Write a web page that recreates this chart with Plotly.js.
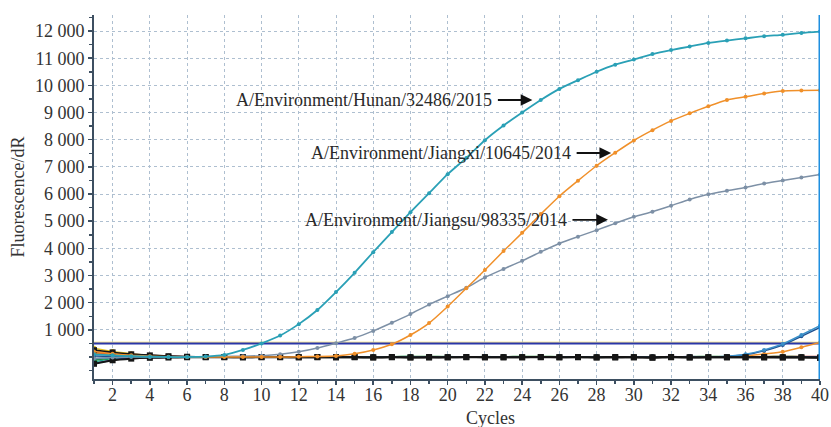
<!DOCTYPE html>
<html>
<head>
<meta charset="utf-8">
<script src="https://cdn.plot.ly/plotly-3.0.1.min.js"></script>
<style>html,body{margin:0;padding:0;background:#fff;}#chart{width:831px;height:427px;}</style>
</head>
<body>
<div id="chart"></div>
<script>
// ---- data ----
const cycles = [1,2,3,4,5,6,7,8,9,10,11,12,13,14,15,16,17,18,19,20,21,22,23,24,25,26,27,28,29,30,31,32,33,34,35,36,37,38,39,40];

const hunan = [100,60,30,10,0,0,15,75,260,500,790,1210,1730,2390,3100,3860,4600,5330,6030,6730,7330,7980,8520,9000,9460,9870,10190,10500,10760,10950,11150,11300,11430,11560,11650,11730,11810,11860,11930,11980];
const jiangxi = [200,120,60,30,10,0,0,0,0,0,0,10,20,40,120,260,470,810,1250,1860,2530,3200,3900,4570,5260,5920,6490,7040,7520,7970,8350,8690,8970,9230,9460,9580,9700,9790,9810,9820];
const jiangsu = [-50,-20,0,0,0,0,10,20,30,50,100,190,330,510,700,960,1260,1580,1930,2240,2550,2930,3240,3540,3870,4180,4430,4670,4920,5160,5350,5570,5800,5990,6120,6240,6390,6500,6610,6720];

// late-rising wells
const lateBlue1 = [-60,-30,-10,0,0,0,0,0,0,0,0,0,0,0,0,0,0,0,0,0,0,0,0,0,0,0,0,0,0,0,0,0,0,0,30,100,260,480,810,1150];
const lateBlue2 = [40,20,10,0,0,0,0,0,0,0,0,0,0,0,0,0,0,0,0,0,0,0,0,0,0,0,0,0,0,0,0,0,0,0,20,80,230,440,760,1090];
const lateOrange = [120,80,40,20,10,0,0,0,0,0,0,0,0,0,0,0,0,0,0,0,0,0,0,0,0,0,0,0,0,0,0,0,0,0,10,30,110,190,360,530];

// baseline (negative) wells
const negBlack1 = [250,170,100,60,30,10,0,-10,-10,-10,-10,-10,-10,-10,-10,-20,-10,-10,-20,-10,-10,-10,-10,-10,-10,-10,0,-20,-20,-10,-30,-10,-20,-10,-10,-10,-20,-20,-20,-30];
const negBlack2 = [-250,-120,-60,-30,-20,-10,-10,0,-10,0,0,-10,0,-10,0,-10,0,-20,0,-10,0,-10,-10,-10,0,-10,-10,-10,0,-10,-10,0,-10,-10,-10,-10,0,-10,-10,-20];
const negGreen = [-120,-40,-10,10,10,10,10,10,10,0,10,10,10,10,10,10,10,20,20,10,10,10,10,20,20,10,10,10,0,10,0,10,10,20,10,10,10,20,10,10];
const negRed = [150,110,70,40,20,10,0,0,0,0,0,0,0,0,10,0,0,0,0,0,0,10,0,0,0,0,0,0,0,0,0,0,0,0,10,10,10,20,20,20];
const negNavy = [-250,-110,-50,-20,-10,0,0,0,0,0,0,0,0,0,0,0,0,0,0,0,0,0,0,0,0,0,0,0,0,0,0,0,20,0,0,0,0,0,0,0];
const negTeal = [-180,-60,-20,0,0,0,0,10,0,0,10,0,0,0,0,0,10,20,0,20,0,20,0,0,0,10,0,0,0,0,0,0,10,10,10,0,0,0,0,0];
const negYellow = [320,200,120,60,30,10,10,0,0,0,0,0,0,0,0,0,0,0,0,0,0,0,0,0,0,0,0,0,0,0,0,0,0,0,0,0,0,0,0,0];
const negPurple = [180,140,100,60,30,10,0,0,0,0,0,0,0,0,0,0,0,0,0,0,0,0,0,0,0,0,0,0,0,0,0,20,0,0,0,0,0,0,0,0];

const threshold = 500;
const thresholdAlt = 545;
const cursorCycle = 40;

const yTickVals = [1000,2000,3000,4000,5000,6000,7000,8000,9000,10000,11000,12000];
const yTickText = ['1 000','2 000','3 000','4 000','5 000','6 000','7 000','8 000','9 000','10 000','11 000','12 000'];
const xTickVals = [2,4,6,8,10,12,14,16,18,20,22,24,26,28,30,32,34,36,38,40];
const xTickText = ['2','4','6','8','10','12','14','16','18','20','22','24','26','28','30','32','34','36','38','40'];

const labels = ['A/Environment/Hunan/32486/2015','A/Environment/Jiangxi/10645/2014','A/Environment/Jiangsu/98335/2014'];

// ---- traces ----
function line(y, color, width, msize, msym, name) {
  return {x: cycles, y: y, type: 'scatter', mode: 'lines+markers', name: name || '',
    line: {color: color, width: width, shape: 'spline', smoothing: 0.6},
    marker: {color: color, size: msize, symbol: msym || 'circle'}, hoverinfo: 'skip'};
}

const traces = [
  {x: [cycles[0], cycles[cycles.length-1]], y: [thresholdAlt, thresholdAlt], type: 'scatter', mode: 'lines',
   line: {color: '#f3dc6a', width: 1}, hoverinfo: 'skip'},
  {x: [cycles[0], cycles[cycles.length-1]], y: [threshold, threshold], type: 'scatter', mode: 'lines',
   line: {color: '#2a36a8', width: 2}, hoverinfo: 'skip'},
  line(negYellow, '#e2c222', 1.5, 5),
  line(negPurple, '#6a3d9a', 1.5, 5),
  line(negRed, '#c0392b', 1.5, 5),
  line(negTeal, '#17a589', 1.5, 5),
  line(negGreen, '#1e8a2e', 1.5, 5),
  line(negNavy, '#1f2f9f', 1.5, 5),
  line(lateOrange, '#f0902a', 1.5, 4),
  line(lateBlue2, '#1f4f8f', 1.5, 4),
  line(lateBlue1, '#3a8fc8', 1.5, 4),
  line(negBlack2, '#151515', 2, 6, 'square'),
  line(negBlack1, '#151515', 2, 6, 'square'),
  line(jiangsu, '#7d90a6', 1.5, 4, 'circle', labels[2]),
  line(jiangxi, '#f0902a', 1.5, 4, 'circle', labels[1]),
  line(hunan, '#2aa0b6', 1.8, 4, 'circle', labels[0])
];

const font = {family: 'Liberation Serif, Times New Roman, serif', size: 18, color: '#333'};
const axisColor = '#3d4f61';
const gridColor = '#aebfd0';

function arrowNote(text, x, y, ax) {
  return {text: text, x: x, y: y, xref: 'x', yref: 'y', ax: ax, ay: 0, axref: 'pixel', ayref: 'pixel',
    showarrow: true, arrowhead: 2, arrowsize: 1.3, arrowwidth: 1.8, arrowcolor: '#111',
    font: {family: font.family, size: 18, color: '#2a2a2a'}, standoff: 0, startstandoff: 4};
}

const layout = {
  width: 831, height: 427,
  margin: {l: 94, r: 11, t: 15, b: 48},
  paper_bgcolor: '#fff', plot_bgcolor: '#fff',
  showlegend: false,
  font: font,
  xaxis: {
    range: [1, 40], tickmode: 'array', tickvals: xTickVals, ticktext: xTickText,
    showgrid: true, gridcolor: gridColor, griddash: 'dot', gridwidth: 1,
    showline: true, linecolor: axisColor, linewidth: 2, zeroline: false,
    ticks: 'outside', ticklen: 4, tickwidth: 1.5, tickcolor: axisColor, ticklabelstandoff: -6,
    minor: {tickmode: 'linear', tick0: 1, dtick: 1, ticks: 'outside', ticklen: 3, tickcolor: axisColor, showgrid: false},
    tickfont: font
  },
  yaxis: {
    range: [-810, 12590], tickmode: 'array', tickvals: yTickVals, ticktext: yTickText,
    showgrid: true, gridcolor: gridColor, griddash: 'dot', gridwidth: 1,
    showline: true, linecolor: axisColor, linewidth: 2, zeroline: false,
    ticks: 'outside', ticklen: 4, tickwidth: 1.5, tickcolor: axisColor,
    minor: {tickmode: 'linear', tick0: 0, dtick: 500, ticks: 'outside', ticklen: 3, tickcolor: axisColor, showgrid: false},
    tickfont: font,
    title: {text: 'Fluorescence/dR', font: font, standoff: 6}
  },
  shapes: [
    {type: 'line', xref: 'x', yref: 'paper', x0: cursorCycle, x1: cursorCycle, y0: 0, y1: 1,
     line: {color: '#1f8fe0', width: 3}}
  ],
  annotations: [
    arrowNote(labels[0], 24.55, 9460, -168),
    arrowNote(labels[1], 28.78, 7510, -170),
    arrowNote(labels[2], 28.61, 5050, -172),
    {text: 'Cycles', xref: 'paper', yref: 'paper', x: 0.546, y: -0.106, xanchor: 'center', yanchor: 'middle',
     showarrow: false, font: font}
  ]
};

Plotly.newPlot('chart', traces, layout, {displayModeBar: false, staticPlot: true});
</script>
</body>
</html>
